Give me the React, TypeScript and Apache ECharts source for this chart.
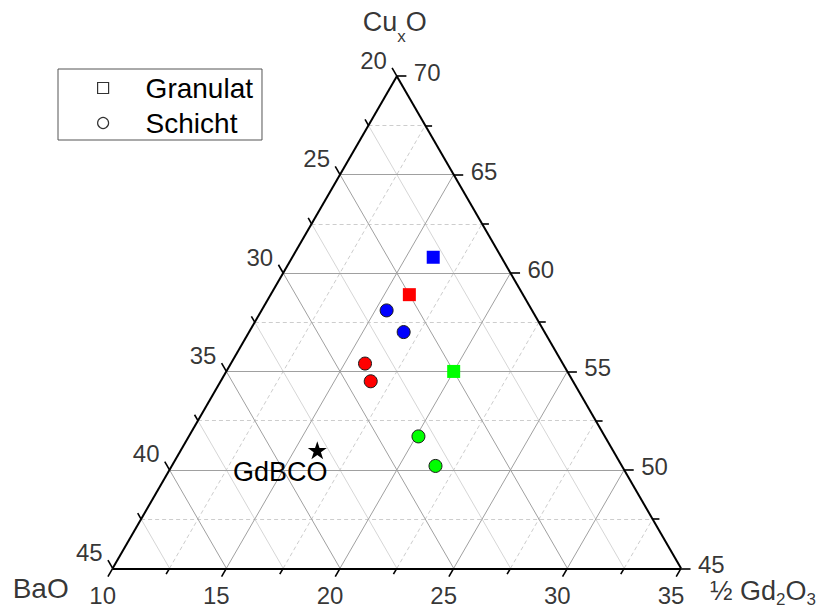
import React, { useEffect, useRef } from "react";
import * as echarts from "echarts";

// Composition triangle limits (mol-%): ½ Gd2O3 + BaO + CuxO = 100
const GD_MIN = 10;
const CU_MIN = 45;
const BAO_MIN = 20;
const SPAN = 25;

// Axis tick labels
const gdTicks = [10, 15, 20, 25, 30, 35];
const cuTicks = [45, 50, 55, 60, 65, 70];
const baoTicks = [20, 25, 30, 35, 40, 45];

// Granulat (squares): ½ Gd2O3 and CuxO content, BaO is the rest
const granulatGd = [16.2, 16.1, 20.0];
const granulatCu = [60.8, 58.9, 55.0];
const granulatColor = ["#0000ff", "#ff0000", "#00ff00"];

// Schicht (circles)
const schichtGd = [15.5, 16.8, 15.9, 16.6, 20.1, 21.6];
const schichtCu = [58.1, 57.0, 55.4, 54.5, 51.7, 50.2];
const schichtColor = ["#0000ff", "#0000ff", "#ff0000", "#ff0000", "#00ff00", "#00ff00"];

// GdBCO reference composition
const gdbcoGd = [16.0];
const gdbcoCu = [51.0];

const FONT = "'Liberation Sans', Arial, Helvetica, sans-serif";
const SQ3_2 = Math.sqrt(3) / 2;

// ternary (½ Gd2O3, CuxO) -> cartesian units of the equilateral triangle
const toXY = (gd: number, cu: number): [number, number] => [
  gd - GD_MIN + (cu - CU_MIN) / 2,
  (cu - CU_MIN) * SQ3_2,
];

const majorOffsets = [5, 10, 15, 20];
const minorOffsets = [2.5, 7.5, 12.5, 17.5, 22.5];
const tickOffsets = [0, 2.5, 5, 7.5, 10, 12.5, 15, 17.5, 20, 22.5, 25];

const cuLine = (c: number) => ({ coords: [toXY(GD_MIN, c), toXY(100 - BAO_MIN - c, c)] });
const gdLine = (g: number) => ({ coords: [toXY(g, CU_MIN), toXY(g, 100 - BAO_MIN - g)] });
const baoLine = (b: number) => ({
  coords: [toXY(100 - b - CU_MIN, CU_MIN), toXY(GD_MIN, 100 - b - GD_MIN)],
});

function starSymbol(): string {
  const pts: string[] = [];
  for (let i = 0; i < 10; i++) {
    const r = i % 2 ? 0.382 : 1;
    const a = -Math.PI / 2 + (i * Math.PI) / 5;
    pts.push(`${(r * Math.cos(a)).toFixed(4)} ${(r * Math.sin(a)).toFixed(4)}`);
  }
  return "path://M" + pts.join(" L") + " Z";
}

function linesSeries(data: any[], color: string, width: number, type: any, z: number) {
  return {
    type: "lines",
    coordinateSystem: "cartesian2d",
    silent: true,
    z,
    lineStyle: { color, width, type, opacity: 1, cap: "butt" },
    data,
  };
}

function textSeries(items: { text: string; xy: [number, number] }[], label: any) {
  return {
    type: "scatter",
    symbolSize: 0,
    silent: true,
    z: 6,
    data: items.map((it) => ({ name: it.text, value: it.xy })),
    label: {
      show: true,
      formatter: "{b}",
      position: "inside",
      color: "#000",
      fontFamily: FONT,
      ...label,
    },
  };
}

// axis title with subscripts: main text at the top of the line, indices below
function titleSeries(name: string, formatter: string, xy: [number, number], label: any, subPad: number) {
  return {
    type: "scatter",
    symbolSize: 0,
    silent: true,
    z: 6,
    data: [{ name, value: xy }],
    label: {
      show: true,
      position: "inside",
      formatter,
      verticalAlign: "middle",
      color: "#000",
      fontFamily: FONT,
      ...label,
      rich: {
        m: { fontFamily: FONT, fontSize: 27, lineHeight: 24, verticalAlign: "top", color: "#000" },
        s: {
          fontFamily: FONT,
          fontSize: 17,
          lineHeight: 16,
          padding: [subPad, 0, 0, 0],
          verticalAlign: "top",
          color: "#000",
        },
      },
    },
  };
}

function buildOption() {
  const majorGrid = [
    ...majorOffsets.map((o) => cuLine(CU_MIN + o)),
    ...majorOffsets.map((o) => gdLine(GD_MIN + o)),
    ...majorOffsets.map((o) => baoLine(BAO_MIN + o)),
  ];
  const minorDashed = [
    ...minorOffsets.map((o) => cuLine(CU_MIN + o)),
    ...minorOffsets.map((o) => gdLine(GD_MIN + o)),
  ];
  const minorSolid = minorOffsets.map((o) => baoLine(BAO_MIN + o));

  const edges = [cuLine(CU_MIN), gdLine(GD_MIN), baoLine(BAO_MIN)];

  const tickLen = (o: number) => (o % 5 === 0 ? 0.42 : 0.3);
  const ticks = tickOffsets.flatMap((o) => {
    const L = tickLen(o);
    const b = BAO_MIN + o;
    const c = CU_MIN + o;
    const g = GD_MIN + o;
    return [
      { coords: [toXY(GD_MIN, 100 - b - GD_MIN), toXY(GD_MIN - L, 100 - b - GD_MIN + L)] },
      { coords: [toXY(100 - BAO_MIN - c, c), toXY(100 - BAO_MIN - c + L, c)] },
      { coords: [toXY(g, CU_MIN), toXY(g, CU_MIN - L)] },
    ];
  });

  const tickFont = { fontSize: 24, lineHeight: 18 };

  return {
    animation: false,
    backgroundColor: "#ffffff",
    grid: { left: 0, right: 0, top: 0, bottom: 0 },
    xAxis: { type: "value", min: -4.958, max: 31.291, show: false },
    yAxis: { type: "value", min: -2.01, max: 25.0, show: false },
    legend: {
      orient: "vertical",
      left: 58,
      top: 69,
      padding: [4, 9, 2, 39],
      itemGap: 5,
      itemWidth: 11,
      itemHeight: 11,
      borderColor: "#555",
      borderWidth: 1,
      selectedMode: false,
      textStyle: {
        fontFamily: FONT,
        fontSize: 28,
        lineHeight: 30,
        color: "#000",
        padding: [0, 0, 0, 32],
      },
      data: [
        {
          name: "Granulat",
          icon: "rect",
          itemStyle: { color: "#ffffff", borderColor: "#333", borderWidth: 1.2 },
        },
        {
          name: "Schicht",
          icon: "circle",
          itemStyle: { color: "#ffffff", borderColor: "#333", borderWidth: 1.2 },
        },
      ],
    },
    series: [
      linesSeries(minorSolid, "#d6d6d6", 1, "solid", 1),
      linesSeries(minorDashed, "#cdcdcd", 1, [4, 3], 1),
      linesSeries(majorGrid, "#a0a0a0", 1, "solid", 2),
      linesSeries(edges, "#000000", 2, "solid", 3),
      linesSeries(ticks, "#000000", 1.6, "solid", 3),
      // axis tick labels
      textSeries(
        baoTicks.map((b) => ({ text: String(b), xy: toXY(GD_MIN, 100 - b - GD_MIN) })),
        { ...tickFont, align: "right", verticalAlign: "middle", offset: [-10, -16] }
      ),
      textSeries(
        cuTicks.map((c) => ({ text: String(c), xy: toXY(100 - BAO_MIN - c, c) })),
        { ...tickFont, align: "left", verticalAlign: "middle", offset: [17, -3.5] }
      ),
      textSeries(
        gdTicks.map((g) => ({ text: String(g), xy: toXY(g, CU_MIN) })),
        { ...tickFont, align: "center", verticalAlign: "middle", offset: [-10, 27] }
      ),
      // axis titles
      titleSeries("CuxO", "{m|Cu}{s|x}{m|O}", toXY(GD_MIN, CU_MIN + SPAN), { align: "center", offset: [-2, -55.5] }, 19),
      textSeries([{ text: "BaO", xy: toXY(GD_MIN, CU_MIN) }], {
        fontSize: 28,
        align: "center",
        verticalAlign: "middle",
        offset: [-72, 20],
      }),
      titleSeries("Gd2O3", "{m|½ Gd}{s|2}{m|O}{s|3}", toXY(GD_MIN + SPAN, CU_MIN), { align: "left", offset: [29, 20.7] }, 14),
      // measured compositions
      {
        name: "Granulat",
        type: "scatter",
        symbol: "rect",
        symbolSize: 13,
        z: 5,
        data: granulatGd.map((g, i) => ({
          value: toXY(g, granulatCu[i]),
          itemStyle: { color: granulatColor[i] },
        })),
        itemStyle: { borderWidth: 0, opacity: 1 },
      },
      {
        name: "Schicht",
        type: "scatter",
        symbol: "circle",
        symbolSize: 13,
        z: 5,
        data: schichtGd.map((g, i) => ({
          value: toXY(g, schichtCu[i]),
          itemStyle: { color: schichtColor[i] },
        })),
        itemStyle: { borderColor: "#1a1a1a", borderWidth: 1, opacity: 1 },
      },
      {
        name: "GdBCO",
        type: "scatter",
        symbol: starSymbol(),
        symbolSize: [19, 18],
        z: 5,
        data: gdbcoGd.map((g, i) => ({ name: "GdBCO", value: toXY(g, gdbcoCu[i]) })),
        itemStyle: { color: "#000000", opacity: 1 },
        label: {
          show: true,
          formatter: "{b}",
          position: "inside",
          align: "center",
          verticalAlign: "middle",
          offset: [-37, 22],
          color: "#000",
          fontFamily: FONT,
          fontSize: 27,
        },
      },
    ],
  };
}

export default function App() {
  const ref = useRef<HTMLDivElement>(null);

  useEffect(() => {
    document.body.style.margin = "0";
    if (!ref.current) return;
    const chart = echarts.init(ref.current, undefined, { renderer: "svg" });
    chart.setOption(buildOption() as any);
    return () => chart.dispose();
  }, []);

  return (
    <div
      ref={ref}
      style={{ position: "fixed", left: 0, top: 0, width: 824, height: 614, background: "#fff" }}
    />
  );
}
